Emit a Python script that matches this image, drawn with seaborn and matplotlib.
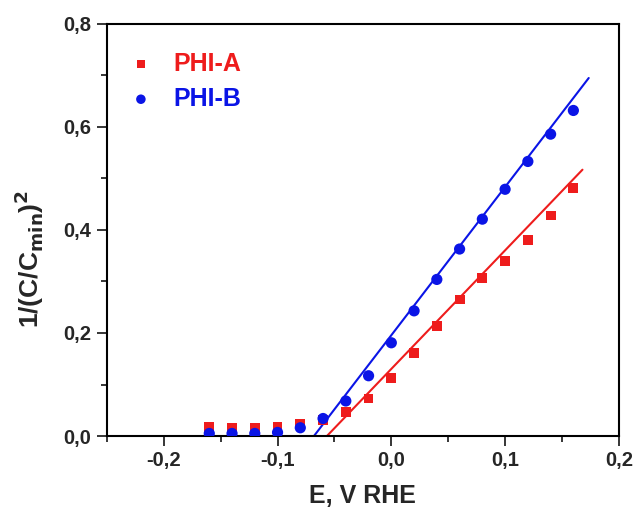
import numpy as np
import pandas as pd
import matplotlib
matplotlib.use("Agg")
import matplotlib.pyplot as plt
import seaborn as sns
from matplotlib.ticker import MultipleLocator, FuncFormatter

# Data
E = [-0.16, -0.14, -0.12, -0.10, -0.08, -0.06, -0.04, -0.02, 0.00, 0.02,
     0.04, 0.06, 0.08, 0.10, 0.12, 0.14, 0.16]
phi_a = [0.017, 0.016, 0.016, 0.017, 0.023, 0.031, 0.047, 0.073, 0.112, 0.161,
         0.214, 0.265, 0.307, 0.340, 0.381, 0.428, 0.482]
phi_b = [0.005, 0.005, 0.005, 0.007, 0.016, 0.034, 0.068, 0.117, 0.181, 0.243,
         0.304, 0.363, 0.421, 0.479, 0.533, 0.586, 0.632]
# Linear fit lines (endpoints)
fit_a_x = [-0.0566, 0.168]
fit_a_y = [0.0, 0.517]
fit_b_x = [-0.068, 0.1735]
fit_b_y = [0.0, 0.695]

red = "#ee1c1c"
blue = "#0a14e6"

sns.set_theme(style="white")
plt.rcParams["font.family"] = ["Liberation Sans", "DejaVu Sans"]

fig = plt.figure(figsize=(6.4, 5.2), dpi=100)
ax = fig.add_axes([0.167, 0.1615, 0.8, 0.7925])

df_a = pd.DataFrame({"E": E, "v": phi_a})
df_b = pd.DataFrame({"E": E, "v": phi_b})
fa = pd.DataFrame({"E": fit_a_x, "v": fit_a_y})
fb = pd.DataFrame({"E": fit_b_x, "v": fit_b_y})

sns.lineplot(data=fa, x="E", y="v", ax=ax, color=red, linewidth=1.5, zorder=2)
sns.lineplot(data=fb, x="E", y="v", ax=ax, color=blue, linewidth=1.5, zorder=2)
sns.scatterplot(data=df_a, x="E", y="v", ax=ax, marker="s", s=50, color=red,
                edgecolor="none", zorder=3, label="PHI-A")
sns.scatterplot(data=df_b, x="E", y="v", ax=ax, marker="o", s=65, color=blue,
                edgecolor="none", zorder=4, label="PHI-B")

ax.set_xlim(-0.25, 0.2)
ax.set_ylim(0, 0.8)
ax.xaxis.set_major_locator(MultipleLocator(0.1))
ax.xaxis.set_minor_locator(MultipleLocator(0.05))
ax.yaxis.set_major_locator(MultipleLocator(0.2))
ax.yaxis.set_minor_locator(MultipleLocator(0.1))

def fmt(v, pos):
    s = f"{v:.1f}".replace(".", ",")
    if s in ("-0,0",):
        s = "0,0"
    return s

ax.xaxis.set_major_formatter(FuncFormatter(fmt))
ax.yaxis.set_major_formatter(FuncFormatter(fmt))

ax.tick_params(axis="both", which="major", direction="out", length=7, width=1.3,
               labelsize=14.5, bottom=True, left=True, top=False, right=False, pad=4)
ax.tick_params(axis="both", which="minor", direction="out", length=4, width=1.3,
               bottom=True, left=True, top=False, right=False)
for lab in ax.get_xticklabels() + ax.get_yticklabels():
    lab.set_fontweight("bold")

for sp in ax.spines.values():
    sp.set_linewidth(1.5)
    sp.set_color("black")

ax.set_xlabel("E, V RHE", fontsize=18, fontweight="bold", labelpad=10)
ax.set_ylabel(r"1/(C/C$_{\mathbf{min}}$)$^{\mathbf{2}}$", fontsize=19, fontweight="bold")
ax.yaxis.set_label_coords(-0.118, 0.43)

leg = ax.legend(loc="upper left", bbox_to_anchor=(0.0176, 0.933), frameon=False,
                fontsize=18, handlelength=2.0, handletextpad=0.28,
                borderpad=0.0, borderaxespad=0.0, labelspacing=0.45, markerscale=0.85)
for t, c in zip(leg.get_texts(), [red, blue]):
    t.set_color(c)
    t.set_fontweight("bold")

fig.savefig("out.png", dpi=100)
